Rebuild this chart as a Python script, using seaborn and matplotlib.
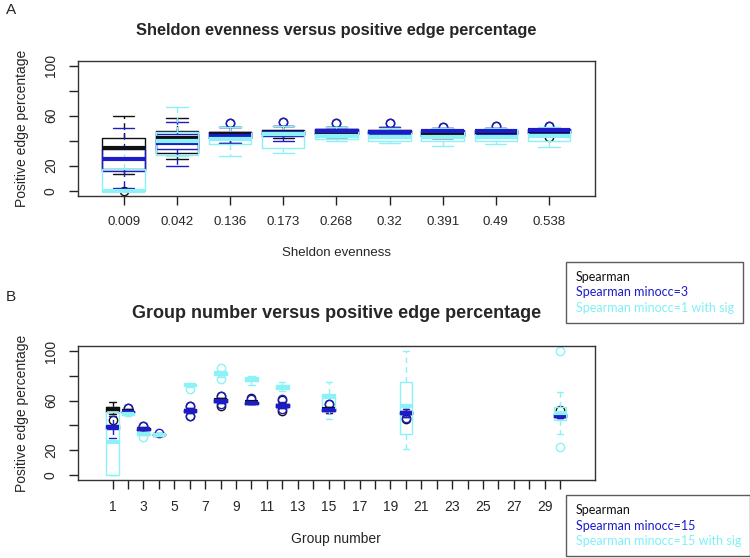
import numpy as np
import seaborn as sns
import matplotlib
matplotlib.use('Agg')
import matplotlib.pyplot as plt
from matplotlib.lines import Line2D

# ---- panel A data: (lower whisker, q1, median, q3, upper whisker) ----
evenness = ['0.009', '0.042', '0.136', '0.173', '0.268', '0.32', '0.391', '0.49', '0.538']
a_spearman = [(13, 17, 34, 42, 60), (25, 30, 42, 48, 58), (38, 42, 45, 47, 51), (42, 45, 47, 48.5, 52),
              (43, 45, 47, 49, 51), (44, 46, 47, 48.5, 51), (42, 44, 46, 48, 50), (44, 45.5, 47, 48.5, 50),
              (45, 46, 47.5, 49, 50)]
a_spearman_out = [[0], [], [54], [55], [54], [54], [51], [52], [43, 52]]
a_minocc = [(2, 16, 25, 33, 50), (20, 33, 38, 45, 55), (38, 42, 44, 47, 51), (40, 44, 46, 48, 52),
            (43, 45, 48, 49, 51), (44, 45.5, 47, 48, 51), (42, 44, 47.5, 48.5, 50), (44, 45.5, 47.5, 48.5, 50),
            (44, 46, 48.5, 49, 50)]
a_minocc_out = [[], [], [54], [55], [54], [54], [51], [52], [52]]
a_sig = [(0, 0, 0, 17, 33), (28, 28.5, 40, 47, 67), (28, 37, 41, 46, 51), (30, 34, 45, 48, 52),
         (40, 41.5, 44, 47, 51), (38, 39.5, 43, 46, 50), (36, 40, 43, 47, 50), (37, 40, 43, 48.5, 50),
         (35, 40, 44, 48, 51)]
a_sig_out = [[], [], [], [], [], [], [], [], []]

# ---- panel B data ----
groups = [1, 2, 3, 4, 6, 8, 10, 12, 15, 20, 30]
b_spearman = [(49, 51, 53, 55, 59), (49, 50.5, 51.5, 52, 53), (36, 36.5, 37, 38, 38.5), (32, 32.3, 32.5, 32.8, 33),
              (50, 51, 52, 53, 54), (58, 59, 60.5, 61.5, 62), (57, 57.5, 58.5, 59, 60), (54, 55, 56, 57, 58),
              (50, 51.5, 53, 54, 55), (47, 49, 50, 51, 53), (46, 47, 48, 49, 50)]
b_spearman_out = [[44], [54], [39.5], [], [56, 48], [64, 56], [62], [60.5, 52], [57.5], [45], [52.5]]
b_minocc = [(30, 37, 39, 40, 48), (49, 50, 51, 52, 53), (36, 36.5, 37, 37.5, 38), (32, 32.3, 32.5, 32.8, 33),
            (50, 51, 52, 52.5, 54), (58, 59, 60, 61, 62), (57, 57.5, 58, 59, 60), (54, 55, 56, 57, 59),
            (50, 51.5, 52.5, 53.5, 55), (47, 49, 50, 51.5, 53), (46, 47, 48, 49, 50)]
b_minocc_out = [[], [54], [39.5], [34], [55.5, 48], [64, 57], [61.5], [61, 53], [57], [46], []]
b_sig = [(0, 0, 27, 51, 55), (48, 48.5, 49, 50, 51), (32, 32.5, 33, 33.5, 34), (31.5, 32, 32.5, 33, 33.5),
         (71, 71.5, 72.5, 73.5, 74), (79, 80.5, 82, 83, 84), (73, 76, 77, 79, 80), (68, 69, 71, 73, 75),
         (45, 54, 63, 65, 75), (21, 33, 56, 75, 100), (33, 44, 50, 55, 67)]
b_sig_out = [[], [], [31], [], [69], [86.5, 77.5], [], [], [], [], [100, 22.5]]

labels_a = ['Spearman', 'Spearman minocc=3', 'Spearman minocc=1 with sig']
labels_b = ['Spearman', 'Spearman minocc=15', 'Spearman minocc=15 with sig']
colors = ['#111111', '#1c1cc8', '#8cf2f5']

sns.set_style('white')
plt.rcParams['font.family'] = ['Liberation Sans', 'DejaVu Sans']


def make_stats(five, outs):
    return [dict(whislo=f[0], q1=f[1], med=f[2], q3=f[3], whishi=f[4], fliers=o)
            for f, o in zip(five, outs)]


def draw_boxes(ax, series, positions):
    for (five, outs), c in zip(series, colors):
        ax.bxp(make_stats(five, outs), positions=positions, widths=0.8, capwidths=0.4,
               manage_ticks=False,
               boxprops=dict(color=c, lw=1),
               medianprops=dict(color=c, lw=3, solid_capstyle='butt'),
               whiskerprops=dict(color=c, lw=1, linestyle=(0, (4, 3))),
               capprops=dict(color=c, lw=1),
               flierprops=dict(marker='o', markerfacecolor='none', markeredgecolor=c,
                               markersize=6, markeredgewidth=1))


def style_axes(ax, xticks, xlabels, xlim, xsize):
    ax.set_xlim(*xlim)
    ax.set_ylim(-4, 104)
    ax.set_xticks(xticks)
    ax.set_xticklabels(xlabels, fontsize=xsize)
    ax.set_yticks([0, 20, 40, 60, 80, 100])
    ax.set_yticklabels(['0', '20', '', '60', '', '100'], rotation=90, va='center', fontsize=10)
    ax.tick_params(direction='out', length=6.5, width=1, color='#222222', pad=8,
                   bottom=True, left=True)
    for s in ax.spines.values():
        s.set_color('#333333')
        s.set_linewidth(1)


def add_legend(fig, labels, top):
    handles = [Line2D([], [], linestyle='none') for _ in labels]
    leg = fig.legend(handles, labels, loc='upper left', bbox_to_anchor=(0.755, top),
                     borderaxespad=0, handlelength=0, handletextpad=0, frameon=True, fancybox=False,
                     borderpad=0.75, labelspacing=0.25, prop={'family': 'Lato', 'size': 9},
                     labelcolor=colors[:2] + ['#7ff0f5'])
    leg.get_frame().set_edgecolor('#333333')
    leg.get_frame().set_linewidth(1)


fig = plt.figure(figsize=(7.5, 5.58), dpi=100)
ax_a = fig.add_axes([0.104, 0.6493, 0.689, 0.242])
ax_b = fig.add_axes([0.104, 0.1398, 0.689, 0.240])

pos_a = list(range(1, len(evenness) + 1))
draw_boxes(ax_a, [(a_spearman, a_spearman_out), (a_minocc, a_minocc_out), (a_sig, a_sig_out)], pos_a)
style_axes(ax_a, pos_a, evenness, (0.14, 9.86), 9.5)

draw_boxes(ax_b, [(b_spearman, b_spearman_out), (b_minocc, b_minocc_out), (b_sig, b_sig_out)], groups)
ticks_b = list(range(1, 31))
style_axes(ax_b, ticks_b, [str(t) if t % 2 == 1 else '' for t in ticks_b], (-1.24, 32.24), 10)

xc = 0.104 + 0.689 / 2
fig.text(xc, 0.946, 'Sheldon evenness versus positive edge percentage', ha='center', va='center',
         fontsize=11.8, fontweight='bold')
fig.text(xc, 0.439, 'Group number versus positive edge percentage', ha='center', va='center',
         fontsize=13, fontweight='bold')
fig.text(0.008, 0.982, 'A', ha='left', va='center', fontsize=11)
fig.text(0.008, 0.468, 'B', ha='left', va='center', fontsize=11)
fig.text(xc, 0.5466, 'Sheldon evenness', ha='center', va='center', fontsize=9.5)
fig.text(xc, 0.034, 'Group number', ha='center', va='center', fontsize=10)
fig.text(0.029, 0.6493 + 0.121, 'Positive edge percentage', rotation=90, ha='center', va='center', fontsize=10)
fig.text(0.029, 0.1398 + 0.120, 'Positive edge percentage', rotation=90, ha='center', va='center', fontsize=10)

add_legend(fig, labels_a, 0.5305)
add_legend(fig, labels_b, 0.1129)

fig.savefig('out.png', dpi=100)
